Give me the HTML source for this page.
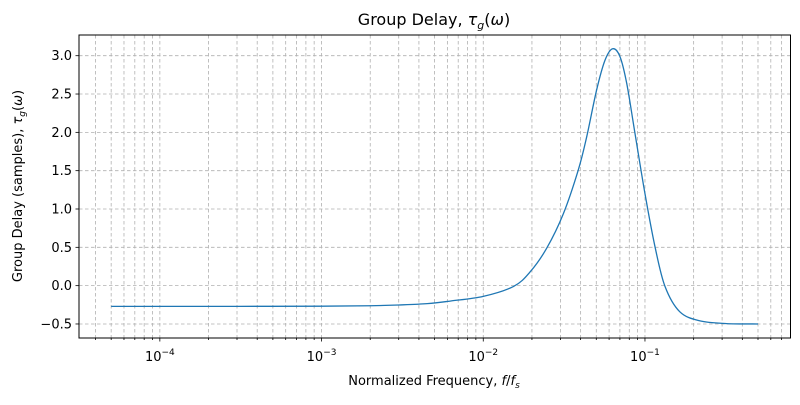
<!DOCTYPE html>
<html><head><meta charset="utf-8"><style>
body{margin:0;background:#fff}
svg text{font-family:"DejaVu Sans","Liberation Sans",sans-serif;fill:#000}
</style></head><body>
<svg id="chart" width="800" height="400" xmlns="http://www.w3.org/2000/svg">
<rect width="800" height="400" fill="#fff"/>
<g id="grid"></g>
<g id="ticks"></g>
<path id="line" fill="none" stroke="#1f77b4" stroke-width="1.3"/>
<rect x="79" y="35" width="711.5" height="303" fill="none" stroke="#000" stroke-width="1"/>
<text x="434" y="25" font-size="16" text-anchor="middle">Group Delay, <tspan font-style="italic">τ</tspan><tspan font-style="italic" font-size="11" dy="4">g</tspan><tspan dy="-4">(</tspan><tspan font-style="italic">ω</tspan>)</text>
<text x="434" y="385" font-size="13" text-anchor="middle">Normalized Frequency, <tspan font-style="italic">f</tspan>/<tspan font-style="italic">f</tspan><tspan font-style="italic" font-size="9" dy="3">s</tspan></text>
<text transform="translate(22,186) rotate(-90)" font-size="13" text-anchor="middle">Group Delay (samples), <tspan font-style="italic">τ</tspan><tspan font-style="italic" font-size="9" dy="3">g</tspan><tspan dy="-3">(</tspan><tspan font-style="italic">ω</tspan>)</text>
</svg>
<script>
const freqs=[5e-5,1e-4,3e-4,1e-3,2e-3,3e-3,4.5e-3,6.3e-3,0.01,0.0154,0.0195,0.0247,0.0313,0.0387,0.0436,0.0502,0.0566,0.0631,0.07,0.0771,0.0867,0.1,0.1153,0.133,0.164,0.219,0.32,0.5];
const delays=[-0.27,-0.27,-0.27,-0.268,-0.262,-0.252,-0.235,-0.2,-0.14,-0.01,0.18,0.49,0.94,1.51,1.94,2.55,2.94,3.09,2.99,2.64,1.99,1.2,0.51,-0.01,-0.34,-0.46,-0.495,-0.5];
const yTicks=[-0.5,0.0,0.5,1.0,1.5,2.0,2.5,3.0];
const xDecades=[-4,-3,-2,-1];
const L=79,R=790.5,T=35,B=338;
const lmin=-4.5,lmax=-0.1,ymin=-0.683,ymax=3.27;
const xs=f=>L+(Math.log10(f)-lmin)/(lmax-lmin)*(R-L);
const ys=v=>B-(v-ymin)/(ymax-ymin)*(B-T);
const NS="http://www.w3.org/2000/svg";
const grid=document.getElementById('grid'),tk=document.getElementById('ticks');
function mk(tag,attrs,parent){const e=document.createElementNS(NS,tag);for(const k in attrs)e.setAttribute(k,attrs[k]);parent.appendChild(e);return e;}
for(let d=-5;d<=0;d++){for(let m=1;m<10;m++){const f=m*Math.pow(10,d);const x=xs(f);if(x<L||x>R)continue;
const g=mk('line',{x1:x,x2:x,y1:T,y2:B,stroke:'#b0b0b0','stroke-width':0.8,'stroke-dasharray':'3.5,2.5'},grid);


const t=mk('line',{x1:x,x2:x,y1:B,y2:B+(m===1?3.5:2),stroke:'#000','stroke-width':0.8},tk);

}}
xDecades.forEach(d=>{const x=xs(Math.pow(10,d));
const t=mk('text',{x:x,y:361,'font-size':13,'text-anchor':'middle'},tk);


t.innerHTML='10<tspan font-size="9" dy="-6">−'+(-d)+'</tspan>';});
yTicks.forEach(v=>{const y=ys(v);
const g=mk('line',{x1:L,x2:R,y1:y,y2:y,stroke:'#b0b0b0','stroke-width':0.8,'stroke-dasharray':'3.5,2.5'},grid);


mk('line',{x1:L-3.5,x2:L,y1:y,y2:y,stroke:'#000','stroke-width':0.8},tk);
const t=mk('text',{x:L-7,y:y+4.5,'font-size':13,'text-anchor':'end'},tk);


t.textContent=(v<0?'−':'')+Math.abs(v).toFixed(1);});
const P=freqs.map((f,i)=>[xs(f),ys(delays[i])]);
let d='M'+P[0][0]+','+P[0][1];
for(let i=0;i<P.length-1;i++){const p0=P[Math.max(0,i-1)],p1=P[i],p2=P[i+1],p3=P[Math.min(P.length-1,i+2)];
const c1=[p1[0]+(p2[0]-p0[0])/6,p1[1]+(p2[1]-p0[1])/6],c2=[p2[0]-(p3[0]-p1[0])/6,p2[1]-(p3[1]-p1[1])/6];
d+=' C'+c1+' '+c2+' '+p2;}
document.getElementById('line').setAttribute('d',d);
</script>
</body></html>
